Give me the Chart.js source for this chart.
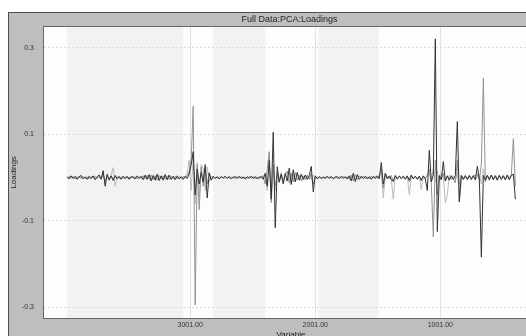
<!DOCTYPE html>
<html><head><meta charset="utf-8">
<script src="https://cdn.jsdelivr.net/npm/chart.js@4/dist/chart.umd.min.js"></script>
<style>
html,body{margin:0;padding:0;background:#fff;overflow:hidden;width:526px;height:336px}
#wrap{position:absolute;left:0;top:0;width:576px;height:350px}
canvas{display:block}
</style></head>
<body><div id="wrap"><canvas id="c" width="576" height="350"></canvas></div>
<script>
const variables=[
3985,3969,3953,3937,3921,3905,3889,3873,3857,3841,
3825,3809,3793,3777,3761,3745,3729,3713,3697,3681,
3665,3649,3633,3617,3601,3585,3569,3553,3537,3521,
3505,3489,3473,3457,3441,3425,3409,3393,3377,3361,
3345,3329,3313,3297,3281,3265,3249,3233,3217,3201,
3185,3169,3153,3137,3121,3105,3089,3073,3057,3041,
3025,3009,2993,2977,2961,2945,2929,2913,2897,2881,
2865,2849,2833,2817,2801,2785,2769,2753,2737,2721,
2705,2689,2673,2657,2641,2625,2609,2593,2577,2561,
2545,2529,2513,2497,2481,2465,2449,2433,2417,2401,
2385,2369,2353,2337,2321,2305,2289,2273,2257,2241,
2225,2209,2193,2177,2161,2145,2129,2113,2097,2081,
2065,2049,2033,2017,2001,1985,1969,1953,1937,1921,
1905,1889,1873,1857,1841,1825,1809,1793,1777,1761,
1745,1729,1713,1697,1681,1665,1649,1633,1617,1601,
1585,1569,1553,1537,1521,1505,1489,1473,1457,1441,
1425,1409,1393,1377,1361,1345,1329,1313,1297,1281,
1265,1249,1233,1217,1201,1185,1169,1153,1137,1121,
1105,1089,1073,1057,1041,1025,1009,993,977,961,
945,929,913,897,881,865,849,833,817,801,
785,769,753,737,721,705,689,673,657,641,
625,609,593,577,561,545,529,513,497,481,
465,449,433,417,401];

const pc1Loadings=[
0.002,-0.003,0.004,-0.002,0.003,-0.004,0.002,0.005,-0.003,0.001,
-0.004,0.003,-0.002,0.004,-0.005,0.002,0.006,-0.004,0.016,-0.020,
0.008,-0.006,0.004,-0.007,0.005,-0.003,0.002,-0.004,0.003,-0.002,
0.003,-0.004,0.002,0.001,-0.003,0.004,-0.002,0.003,-0.005,0.006,
-0.004,0.007,-0.008,0.005,-0.006,0.008,-0.007,0.004,-0.006,0.007,
-0.005,0.006,-0.004,0.003,-0.005,0.004,-0.003,0.002,-0.004,0.003,
-0.002,0.008,0.030,0.060,-0.040,0.020,-0.015,0.012,-0.010,0.030,
-0.047,0.010,-0.006,0.003,-0.002,0.002,-0.003,0.002,-0.001,0.003,
-0.002,0.002,-0.003,0.001,0.002,-0.002,0.003,-0.002,0.001,-0.003,
0.002,-0.001,0.003,-0.002,0.002,-0.003,0.001,0.002,-0.004,0.010,
-0.020,0.040,-0.050,0.105,-0.116,0.025,-0.010,0.008,-0.015,0.010,
-0.008,0.022,-0.016,0.018,-0.010,0.012,-0.006,0.008,-0.004,0.006,
-0.004,0.005,0.026,-0.033,0.004,-0.003,0.002,-0.002,0.001,-0.001,
0.003,-0.002,0.002,-0.003,0.001,0.002,-0.002,0.003,-0.002,0.002,
-0.003,0.004,-0.008,0.010,-0.009,0.007,-0.004,0.003,-0.002,0.003,
-0.003,0.002,-0.004,0.003,-0.002,0.004,-0.003,0.035,-0.015,0.010,
-0.003,0.004,-0.005,-0.008,0.005,-0.003,0.004,-0.002,0.003,-0.004,
0.004,-0.006,0.006,-0.003,0.003,-0.004,0.003,-0.006,0.004,-0.003,
-0.030,0.063,-0.010,0.006,0.321,-0.125,0.004,-0.005,0.037,-0.008,
0.004,-0.006,0.003,-0.004,0.005,0.130,-0.056,0.005,-0.004,0.003,
-0.004,0.005,-0.003,0.004,-0.005,0.026,-0.004,-0.184,0.005,-0.006,
0.005,-0.004,0.006,-0.005,0.003,-0.006,0.005,-0.003,0.004,-0.005,
0.006,-0.004,0.005,0.008,-0.050];

const pc2Loadings=[
-0.002,0.003,-0.001,0.002,-0.003,0.002,0.001,-0.002,0.003,-0.002,
0.002,-0.003,0.002,-0.001,0.003,-0.002,0.002,-0.003,0.008,-0.010,
0.004,-0.003,0.003,-0.004,0.002,-0.002,0.003,-0.002,0.002,-0.003,
0.002,-0.002,0.003,-0.001,0.002,-0.003,0.002,-0.002,0.004,-0.003,
0.005,-0.004,0.006,-0.005,0.004,-0.006,0.005,-0.003,0.004,-0.004,
0.003,-0.004,0.003,-0.002,0.003,-0.003,0.002,-0.002,0.003,-0.002,
0.004,0.015,0.040,0.165,-0.295,0.030,-0.074,0.025,-0.020,0.015,
-0.015,0.012,-0.004,0.002,-0.002,0.001,-0.002,0.002,-0.001,0.002,
-0.001,0.002,-0.002,0.001,-0.002,0.002,-0.001,0.002,-0.002,0.001,
-0.002,0.002,-0.001,0.002,-0.002,0.001,-0.002,0.002,0.004,-0.015,
0.020,0.060,-0.058,0.030,-0.020,0.010,-0.012,0.008,-0.010,0.006,
0.015,-0.012,0.010,-0.010,0.012,-0.006,0.005,-0.008,0.004,-0.005,
0.006,-0.004,0.010,-0.015,0.003,-0.002,0.002,-0.001,0.001,-0.002,
0.002,-0.001,0.003,-0.002,0.002,-0.002,0.001,-0.002,0.003,-0.002,
0.002,-0.004,0.006,-0.008,0.007,-0.005,0.004,-0.002,0.003,-0.002,
0.002,-0.003,0.003,-0.002,0.003,-0.002,0.004,0.020,-0.025,0.008,
0.003,-0.003,0.005,-0.010,0.003,-0.004,0.003,-0.002,0.004,-0.003,
0.003,-0.010,0.004,-0.003,0.003,-0.002,0.003,-0.008,0.003,-0.002,
0.006,0.020,-0.015,-0.137,0.040,-0.040,0.006,-0.004,0.010,-0.008,
0.004,-0.005,0.006,-0.004,-0.012,0.040,-0.056,0.005,-0.004,0.006,
-0.005,0.004,-0.006,0.004,0.005,0.008,-0.006,0.030,0.230,-0.010,
0.005,-0.006,0.004,-0.005,0.006,-0.004,0.005,-0.006,0.004,-0.005,
0.005,-0.006,0.008,0.090,-0.020];

const pc3Loadings=[
0.001,-0.002,0.002,-0.001,0.002,-0.002,0.001,0.002,-0.002,0.001,
-0.002,0.002,-0.001,0.002,-0.002,0.001,0.003,-0.002,0.005,-0.006,
0.003,-0.004,0.006,0.023,-0.020,0.004,-0.002,0.002,-0.001,0.002,
-0.002,0.001,-0.002,0.002,-0.001,0.002,-0.002,0.001,-0.003,0.003,
-0.003,0.004,-0.004,0.003,-0.004,0.005,-0.003,0.003,-0.004,0.004,
-0.003,0.003,-0.002,0.002,-0.003,0.002,-0.002,0.001,-0.002,0.002,
0.010,0.040,-0.030,0.050,-0.060,0.035,-0.045,0.030,0.020,-0.030,
0.025,-0.010,0.003,-0.002,0.001,-0.001,0.002,-0.001,0.001,-0.002,
0.001,-0.001,0.002,-0.001,0.001,-0.002,0.001,-0.001,0.002,-0.001,
0.001,-0.002,0.001,-0.001,0.002,-0.001,0.001,-0.002,0.003,0.008,
-0.030,0.035,-0.040,0.015,-0.030,0.012,-0.008,0.012,-0.006,0.008,
-0.008,0.010,-0.012,0.006,-0.008,0.010,-0.005,0.004,-0.006,0.003,
-0.003,0.004,-0.005,0.006,-0.002,0.002,-0.001,0.001,-0.001,0.001,
-0.001,0.002,-0.002,0.001,-0.002,0.001,-0.001,0.002,-0.001,0.001,
-0.002,0.003,-0.005,0.006,-0.006,0.004,-0.003,0.002,-0.002,0.001,
-0.002,0.002,-0.002,0.003,-0.002,0.002,0.004,0.010,-0.047,0.006,
-0.003,0.003,-0.004,-0.050,0.004,-0.003,0.003,-0.003,0.002,-0.003,
0.003,-0.040,0.003,-0.002,0.003,-0.003,0.002,-0.028,0.003,-0.002,
0.004,0.010,-0.006,0.020,-0.010,0.015,-0.008,0.010,0.005,-0.058,
-0.040,0.006,-0.005,0.004,-0.006,0.010,-0.015,0.004,-0.003,0.005,
-0.004,0.005,-0.005,0.006,-0.005,0.004,0.006,-0.015,0.020,-0.006,
0.005,-0.006,0.006,-0.004,0.005,-0.006,0.006,-0.005,0.006,-0.005,
0.007,-0.005,0.008,0.005,-0.005];

const xTickValues=[3001,2001,1001];
const yTickValues=[0.3,0.1,-0.1,-0.3];
const shadedRegions=[[3985,3057],[2817,2401],[1977,1497]];

const FONT='"Liberation Sans", Arial, sans-serif';
function points(vals){
  const n=Math.min(variables.length,vals.length);
  const out=[];
  for(let i=0;i<n;i++) out.push({x:variables[i],y:vals[i]});
  return out;
}

const framePlugin={
  id:'frame',
  beforeDraw(chart){
    const {ctx,chartArea:a,scales:{x}}=chart;
    ctx.save();
    ctx.fillStyle='#bebebe';
    ctx.fillRect(8,12,562,345);
    ctx.strokeStyle='#4f4f4f';
    ctx.lineWidth=1;
    ctx.strokeRect(8.5,12.5,561,345);
    ctx.fillStyle='#fdfdfd';
    ctx.fillRect(a.left,a.top,a.width,a.height);
    ctx.fillStyle='#f2f2f2';
    shadedRegions.forEach(([v1,v2])=>{
      const p1=x.getPixelForValue(v1),p2=x.getPixelForValue(v2);
      ctx.fillRect(Math.min(p1,p2),a.top,Math.abs(p2-p1),a.height);
    });
    ctx.restore();
  },
  afterDraw(chart){
    const {ctx,chartArea:a}=chart;
    ctx.save();
    ctx.strokeStyle='#666';
    ctx.lineWidth=1;
    ctx.strokeRect(Math.round(a.left)-0.5,Math.round(a.top)-0.5,Math.round(a.width)+1,Math.round(a.height)+1);
    ctx.restore();
  }
};

new Chart(document.getElementById('c'),{
  type:'line',
  data:{datasets:[
    {label:'PC1',data:points(pc1Loadings),borderColor:'#333333',borderWidth:1,pointRadius:0,tension:0,fill:false},
    {label:'PC2',data:points(pc2Loadings),borderColor:'#939393',borderWidth:1,pointRadius:0,tension:0,fill:false},
    {label:'PC3',data:points(pc3Loadings),borderColor:'#bcbcbc',borderWidth:1,pointRadius:0,tension:0,fill:false}
  ]},
  options:{
    responsive:false,
    animation:false,
    events:[],
    layout:{padding:{left:9,right:6,top:13,bottom:0}},
    plugins:{
      legend:{display:false},
      tooltip:{enabled:false},
      title:{display:true,text:'Full Data:PCA:Loadings',color:'#1e1e1e',
        font:{family:FONT,size:9,weight:'normal'},padding:{top:1,bottom:2}}
    },
    scales:{
      x:{type:'linear',reverse:true,min:220,max:4170,
        afterBuildTicks:s=>{s.ticks=xTickValues.map(v=>({value:v}));},
        afterFit:s=>{s.height=32;},
        ticks:{callback:v=>Number(v).toFixed(2),color:'#333',font:{family:FONT,size:7},padding:3,maxRotation:0,autoSkip:false},
        grid:{color:'#e2e2e2',drawTicks:false},
        border:{display:false},
        title:{display:true,text:'Variable',color:'#222',font:{family:FONT,size:8},padding:{top:0,bottom:10}}
      },
      y:{type:'linear',position:'left',min:-0.325,max:0.349,
        afterBuildTicks:s=>{s.ticks=yTickValues.map(v=>({value:v}));},
        afterFit:s=>{s.width=35;},
        ticks:{callback:v=>String(v),color:'#333',font:{family:FONT,size:7},padding:10},
        grid:{color:'#dcdcdc',drawTicks:false},
        border:{display:false,dash:[2,2]},
        title:{display:true,text:'Loadings',color:'#222',font:{family:FONT,size:8},padding:{top:0,bottom:0}}
      },
      yRight:{type:'linear',position:'right',display:true,
        ticks:{display:false},grid:{display:false},border:{display:false},
        afterFit:s=>{s.width=32;}
      }
    }
  },
  plugins:[framePlugin]
});
</script>
</body></html>
